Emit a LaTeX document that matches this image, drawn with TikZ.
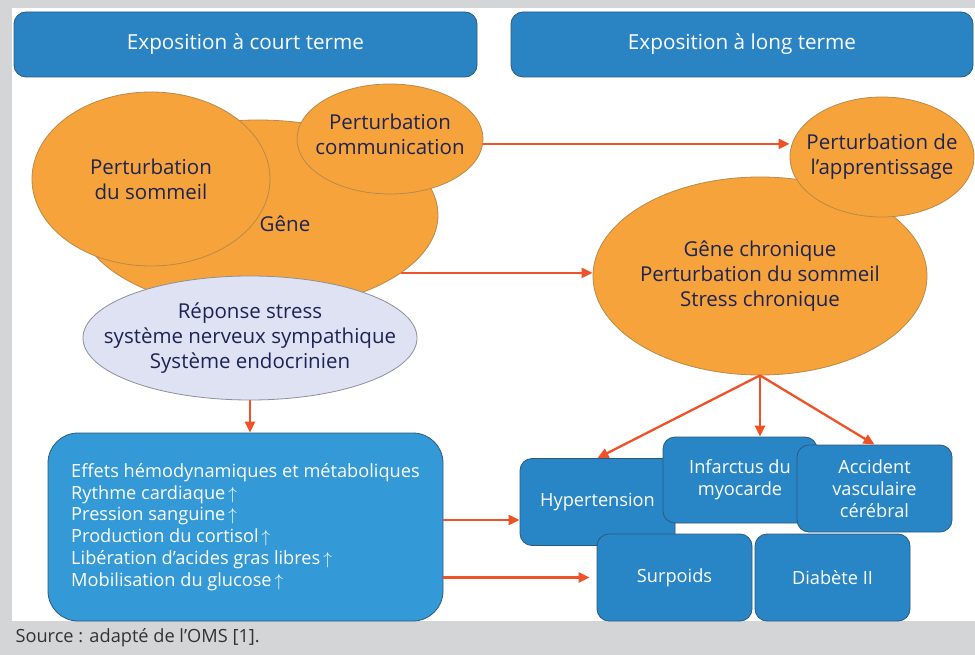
\documentclass[tikz,border=0pt]{standalone}
\usepackage{fontspec}
\setmainfont{Open Sans}
\usetikzlibrary{shapes.geometric,arrows.meta,calc}
\definecolor{headblue}{HTML}{2A84C4}
\definecolor{cardblue}{HTML}{2886C7}
\definecolor{effetblue}{HTML}{3399D7}
\definecolor{cardline}{HTML}{2C5A7E}
\definecolor{blobfill}{HTML}{F7A33B}
\definecolor{blobline}{HTML}{B98A48}
\definecolor{stressfill}{HTML}{DEE2F3}
\definecolor{stressline}{HTML}{8E8E9C}
\definecolor{inktext}{HTML}{1D2454}
\definecolor{linkred}{HTML}{EE5226}
\definecolor{framegray}{HTML}{D4D5D7}
\tikzstyle{blob}=[ellipse,draw=blobline,fill=blobfill,line width=0.8pt,inner sep=0pt]
\tikzstyle{stressblob}=[blob,draw=stressline,fill=stressfill]
\tikzstyle{blobtext}=[text=inktext,align=center,font=\fontsize{20.5}{25}\selectfont]
\tikzstyle{card}=[rectangle,rounded corners=12pt,draw=cardline,fill=cardblue,line width=0.8pt,text=white,align=center,inner sep=0pt,font=\fontsize{18.2}{21.7}\selectfont]
\tikzstyle{header}=[card,fill=headblue,font=\fontsize{20.7}{24}\selectfont]
\tikzstyle{link}=[draw=linkred,line width=2.3pt,-{Triangle[length=11pt,width=10pt]}]
\newcommand{\up}{\,$\uparrow$}

\begin{document}
\begin{tikzpicture}[x=1pt,y=-1pt]
	% frame
	\fill[framegray] (0,0) rectangle (975,655);
	\fill[white] (12,8) rectangle (975,621);
	\useasboundingbox (0,0) rectangle (975,655);
	\node[header,minimum width=463pt,minimum height=65pt] (court) at (245.5,44.5) {Exposition à court terme};
	\node[header,minimum width=462pt,minimum height=65pt] (long) at (742,44.5) {Exposition à long terme};

	% short term
	\node[blob,minimum width=360pt,minimum height=190pt] (gene) at (258,215) {};
	\node[blobtext] (genetext) at (285,224) {Gêne};
	\node[blob,minimum width=238pt,minimum height=174pt,label={[blobtext]center:{Perturbation\\du sommeil}}] (sommeil) at (151,179) {};
	\node[blob,minimum width=186pt,minimum height=110pt,label={[blobtext,yshift=5pt]center:{Perturbation\\communication}}] (comm) at (390,139) {};
	\node[stressblob,minimum width=334pt,minimum height=124pt,label={[blobtext]center:{Réponse stress\\système nerveux sympathique\\Système endocrinien}}] (stress) at (250,338) {};
	\node[card,fill=effetblue,rounded corners=30pt,align=left,minimum width=395pt,minimum height=188pt] (effets) at (245.5,527) {Effets hémodynamiques et métaboliques\\Rythme cardiaque\up\\Pression sanguine\up\\Production du cortisol\up\\Libération d’acides gras libres\up\\Mobilisation du glucose\up};

	% long term
	\node[blob,minimum width=334pt,minimum height=198pt,label={[blobtext]center:{Gêne chronique\\Perturbation du sommeil\\Stress chronique}}] (chron) at (760,276) {};
	\node[blob,minimum width=184pt,minimum height=120pt,label={[blobtext]center:{Perturbation de\\l’apprentissage}}] (appr) at (882,157) {};
	\node[card,minimum width=155pt,minimum height=87pt] (hyper) at (597.5,502) {Hypertension};
	\node[card,minimum width=154pt,minimum height=86pt] (infarct) at (740,480) {Infarctus du\\myocarde};
	\node[card,minimum width=155pt,minimum height=87pt] (avc) at (874.5,488.5) {Accident\\vasculaire\\cérébral};
	\node[card,minimum width=155pt,minimum height=87pt] (surp) at (674.5,577.5) {Surpoids};
	\node[card,minimum width=155pt,minimum height=87pt] (diab) at (832.5,577.5) {Diabète II};

	% links
	\coordinate (hyperin) at ($(hyper.west)+(0,18)$);
	\draw[link] (comm.-3) -- (comm.-3 -| appr.west);
	\draw[link] (gene.-22) -- (gene.-22 -| chron.west);
	\draw[link] (stress.south) -- (stress.south |- effets.north);
	\draw[link] (chron.south) -- (hyper.north);
	\draw[link] (chron.south) -- (chron.south |- infarct.north);
	\draw[link] (chron.south) -- (avc.north);
	\draw[link] (effets.east |- hyperin) -- (hyperin);
	\draw[link,shorten >=7pt] (effets.east |- surp.west) -- (surp.west);

	\node[anchor=west,text=black!80,font=\fontsize{18.2}{21}\selectfont] (source) at (12,638) {Source : adapté de l’OMS [1].};
\end{tikzpicture}
\end{document}
